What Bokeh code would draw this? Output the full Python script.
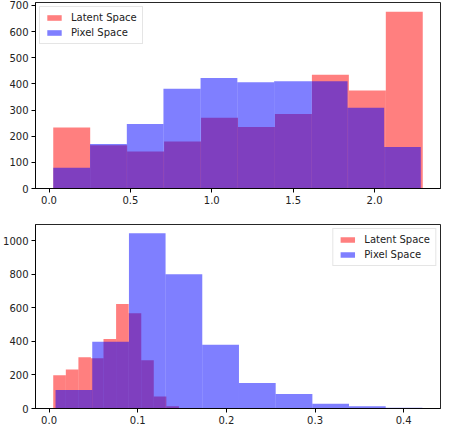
from bokeh.plotting import figure
from bokeh.layouts import column
from bokeh.models import FixedTicker, NumeralTickFormatter, Range1d, Legend, LegendItem, ColumnDataSource
from bokeh.embed import file_html
from bokeh.resources import INLINE

# ---- data ----
top_latent_edges = [0.026, 0.253, 0.480, 0.707, 0.934, 1.161, 1.388, 1.615, 1.842, 2.069, 2.296]
top_latent_counts = [233, 165, 141, 180, 270, 235, 285, 435, 375, 676]
top_pixel_edges = [0.026, 0.252, 0.478, 0.703, 0.931, 1.157, 1.383, 1.611, 1.834, 2.059, 2.284]
top_pixel_counts = [79, 170, 247, 381, 422, 406, 410, 410, 309, 159]

bot_latent_edges = [0.0047, 0.0189, 0.0331, 0.0472, 0.0614, 0.0756, 0.0898, 0.1040, 0.1181, 0.1323, 0.1465]
bot_latent_counts = [198, 233, 306, 299, 414, 622, 568, 287, 71, 13]
bot_pixel_edges = [0.0073, 0.0487, 0.0901, 0.1314, 0.1728, 0.2142, 0.2556, 0.2970, 0.3383, 0.3797, 0.4211]
bot_pixel_counts = [110, 397, 1044, 800, 380, 152, 87, 29, 13, 4]

top_xticks = [0.0, 0.5, 1.0, 1.5, 2.0]
top_yticks = [0, 100, 200, 300, 400, 500, 600, 700]
bot_xticks = [0.0, 0.1, 0.2, 0.3, 0.4]
bot_yticks = [0, 200, 400, 600, 800, 1000]

labels = ["Latent Space", "Pixel Space"]
colors = ["red", "blue"]

FONT = "DejaVu Sans"


def make(edges_a, counts_a, edges_b, counts_b, xr, yr, xt, yt, h, border_top, legend_loc):
    p = figure(width=444, height=h, output_backend="svg", toolbar_location=None,
               x_range=Range1d(*xr), y_range=Range1d(*yr),
               min_border_left=33, min_border_right=4, min_border_top=border_top,
               min_border_bottom=4)
    p.grid.visible = False
    p.outline_line_color = "black"
    p.outline_line_alpha = 0.85
    p.outline_line_width = 1
    renderers = []
    for edges, counts, col in ((edges_a, counts_a, colors[0]), (edges_b, counts_b, colors[1])):
        src = ColumnDataSource(dict(left=edges[:-1], right=edges[1:], top=counts,
                                    bottom=[0] * len(counts)))
        r = p.quad(left="left", right="right", top="top", bottom="bottom", source=src,
                   fill_color=col, fill_alpha=0.5, line_color=None)
        renderers.append(r)
    for ax in (p.xaxis[0], p.yaxis[0]):
        ax.axis_line_color = "black"
        ax.axis_line_alpha = 0.85
        ax.major_tick_line_color = "black"
        ax.major_tick_out = 4
        ax.major_tick_in = 0
        ax.minor_tick_line_color = None
        ax.major_label_text_font = FONT
        ax.major_label_text_font_size = "10px"
        ax.major_label_text_color = "#222222"
        ax.major_label_standoff = 3
    p.xaxis[0].ticker = FixedTicker(ticks=xt)
    p.yaxis[0].ticker = FixedTicker(ticks=yt)
    p.xaxis[0].formatter = NumeralTickFormatter(format="0.0")
    p.yaxis[0].formatter = NumeralTickFormatter(format="0")
    legend = Legend(items=[LegendItem(label=labels[i], renderers=[renderers[i]]) for i in range(2)],
                    location=legend_loc)
    legend.label_text_font = FONT
    legend.label_text_font_size = "10px"
    legend.label_text_color = "#222222"
    legend.glyph_width = 18
    legend.glyph_height = 7
    legend.label_standoff = 8
    legend.label_height = 10
    legend.spacing = 4
    legend.padding = 5
    legend.margin = 4
    legend.border_line_color = "#cccccc"
    legend.background_fill_alpha = 0.8
    p.add_layout(legend)
    return p


p1 = make(top_latent_edges, top_latent_counts, top_pixel_edges, top_pixel_counts,
          (-0.083, 2.405), (0, 711), top_xticks, top_yticks, 206, 2, "top_left")
p2 = make(bot_latent_edges, bot_latent_counts, bot_pixel_edges, bot_pixel_counts,
          (-0.0153, 0.4415), (0, 1096), bot_xticks, bot_yticks, 220, 18, "top_right")

layout = column(p1, p2, spacing=0)
open("out.html", "w").write(file_html(layout, INLINE))
